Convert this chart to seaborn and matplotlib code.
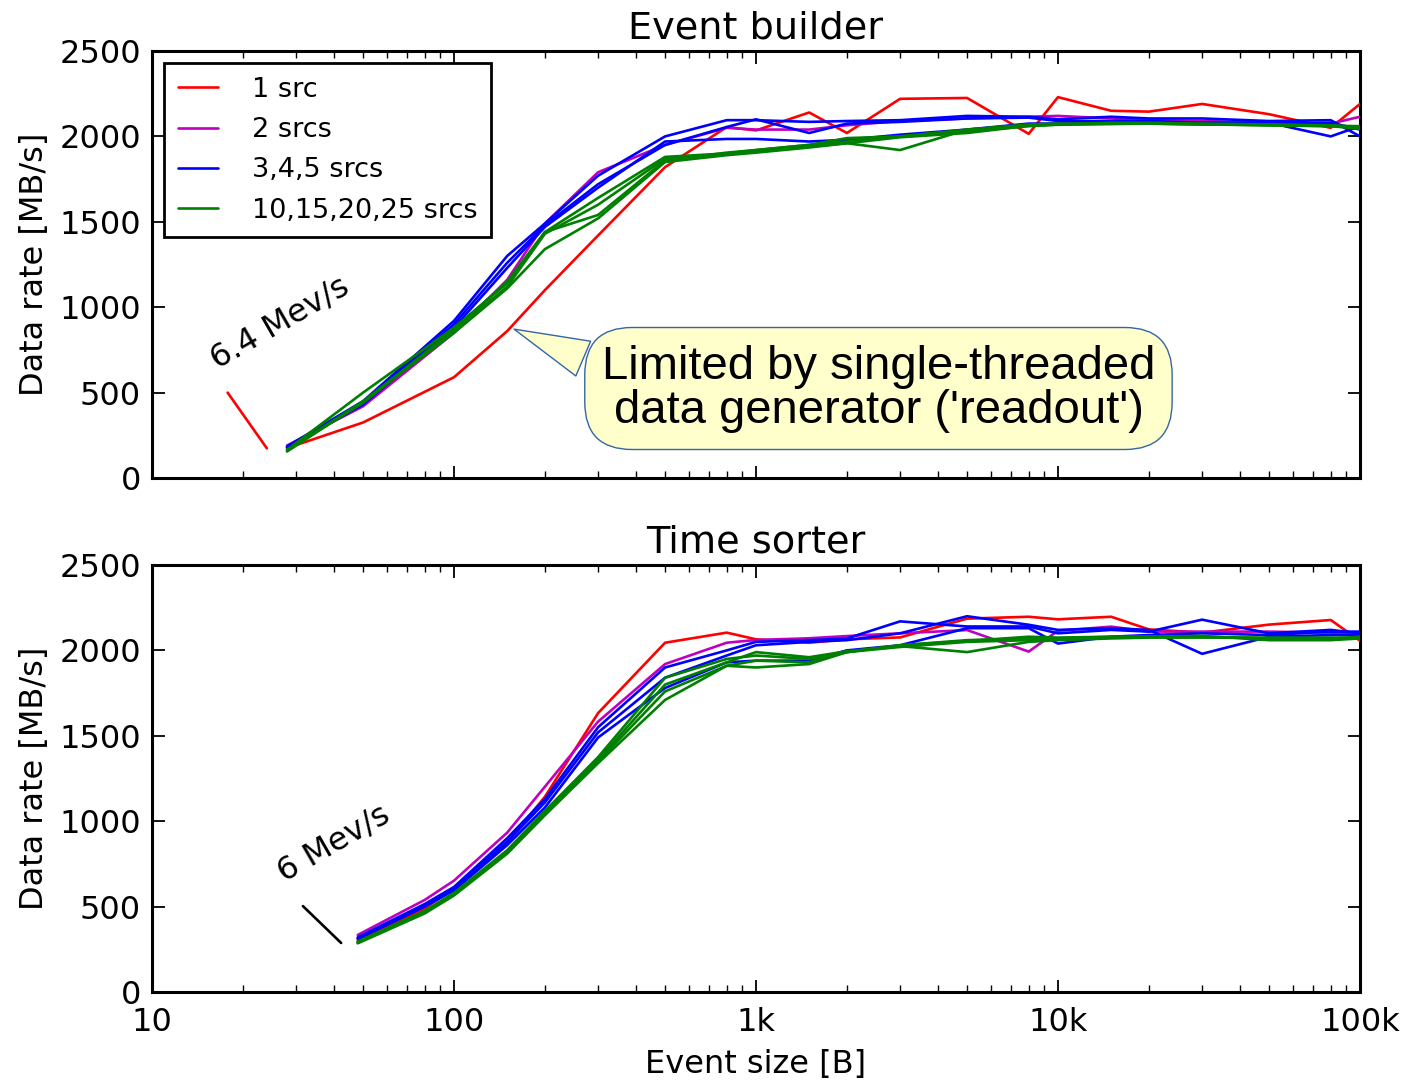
import numpy as np
import pandas as pd
import matplotlib
matplotlib.use("Agg")
import matplotlib.pyplot as plt
from matplotlib.lines import Line2D
from matplotlib.ticker import FixedLocator, FixedFormatter, LogLocator, NullFormatter
import seaborn as sns

# ---------------- data ----------------
sizes_eb = [28, 50, 100, 150, 200, 300, 500, 800, 1000, 1500, 2000, 3000, 5000,
            8000, 10000, 15000, 20000, 30000, 50000, 80000, 100000]
eb_red = [175, 325, 590, 860, 1100, 1420, 1820, 2055, 2035, 2140, 2020, 2220, 2225,
          2015, 2230, 2150, 2145, 2190, 2130, 2050, 2190]
eb_mag = [190, 420, 850, 1160, 1490, 1790, 1950, 2050, 2040, 2040, 2065, 2090, 2105,
          2115, 2120, 2105, 2095, 2090, 2080, 2075, 2115]
eb_blue = [
    [185, 450, 920, 1300, 1490, 1770, 2000, 2095, 2095, 2085, 2090, 2095, 2120,
     2115, 2100, 2115, 2105, 2105, 2090, 2095, 2000],
    [180, 440, 900, 1260, 1480, 1720, 1950, 2055, 2100, 2020, 2075, 2085, 2105,
     2110, 2090, 2090, 2090, 2080, 2080, 2000, 2060],
    [180, 430, 880, 1230, 1470, 1700, 1970, 1985, 1985, 1970, 1980, 2010, 2040,
     2075, 2075, 2080, 2080, 2075, 2075, 2080, 2040],
]
eb_green = [
    [165, 500, 880, 1140, 1440, 1640, 1880, 1900, 1920, 1950, 1990, 2000, 2040,
     2065, 2070, 2075, 2075, 2070, 2065, 2060, 2050],
    [160, 450, 860, 1120, 1430, 1600, 1870, 1895, 1910, 1940, 1960, 1920, 2040,
     2070, 2075, 2075, 2075, 2070, 2068, 2062, 2060],
    [165, 440, 870, 1150, 1440, 1540, 1860, 1905, 1920, 1950, 1970, 2000, 2030,
     2060, 2070, 2080, 2080, 2075, 2070, 2065, 2055],
    [155, 445, 850, 1110, 1340, 1520, 1850, 1890, 1905, 1935, 1960, 1995, 2020,
     2062, 2068, 2072, 2075, 2072, 2065, 2060, 2045],
]

sizes_ts = [48, 80, 100, 150, 200, 300, 500, 800, 1000, 1500, 2000, 3000, 5000,
            8000, 10000, 15000, 20000, 30000, 50000, 80000, 100000]
ts_red = [300, 490, 607, 874, 1143, 1633, 2045, 2104, 2065, 2045, 2065, 2076, 2186,
          2197, 2182, 2197, 2123, 2104, 2151, 2178, 2057]
ts_mag = [334, 539, 652, 933, 1202, 1583, 1920, 2045, 2061, 2071, 2084, 2100, 2119,
          1993, 2115, 2139, 2110, 2110, 2110, 2104, 2090]
ts_blue = [
    [320, 515, 615, 900, 1130, 1550, 1900, 2000, 2050, 2060, 2070, 2170, 2140,
     2140, 2100, 2120, 2110, 2180, 2100, 2120, 2100],
    [315, 505, 605, 880, 1110, 1520, 1840, 1970, 2030, 2050, 2060, 2100, 2200,
     2150, 2120, 2130, 2120, 1980, 2080, 2090, 2090],
    [310, 500, 595, 860, 1080, 1490, 1780, 1930, 1940, 1940, 2000, 2030, 2130,
     2130, 2040, 2080, 2090, 2100, 2090, 2110, 2110],
]
ts_green = [
    [295, 475, 580, 830, 1060, 1375, 1840, 1950, 1970, 1950, 1990, 2020, 2050,
     2060, 2070, 2080, 2080, 2080, 2070, 2070, 2080],
    [290, 470, 575, 820, 1050, 1360, 1800, 1930, 1990, 1960, 1995, 2025, 1990,
     2050, 2060, 2070, 2075, 2075, 2075, 2075, 2070],
    [288, 465, 570, 815, 1040, 1350, 1760, 1910, 1940, 1930, 1990, 2030, 2060,
     2070, 2070, 2075, 2080, 2085, 2060, 2060, 2070],
    [285, 460, 565, 810, 1035, 1340, 1710, 1910, 1900, 1920, 1990, 2030, 2055,
     2080, 2075, 2080, 2080, 2080, 2070, 2070, 2075],
]

# event-rate limit marks
eb_limit_x = [17.8, 24.0]
eb_limit_y = [500, 174]
ts_limit_x = [31.6, 42.3]
ts_limit_y = [503, 287]

legend_labels = ["1 src", "2 srcs", "3,4,5 srcs", "10,15,20,25 srcs"]
xtick_vals = [10, 100, 1000, 10000, 100000]
xtick_labels = ["10", "100", "1k", "10k", "100k"]
ytick_vals = [0, 500, 1000, 1500, 2000, 2500]

# ---------------- style ----------------
sns.set_style("ticks")
plt.rcParams["font.family"] = ["DejaVu Sans"]
plt.rcParams["font.size"] = 23
plt.rcParams["text.color"] = "black"
plt.rcParams["axes.labelcolor"] = "black"
plt.rcParams["xtick.color"] = "black"
plt.rcParams["ytick.color"] = "black"

RED, MAG, BLUE, GREEN = "#ff0000", "#bf00bf", "#0000ff", "#008000"
LW = 1.9

fig = plt.figure(figsize=(14.08, 10.81), dpi=100)
ax1 = fig.add_axes([152 / 1408, 1 - 478 / 1081, (1360 - 152) / 1408, 427 / 1081])
ax2 = fig.add_axes([152 / 1408, 1 - 992 / 1081, (1360 - 152) / 1408, 427 / 1081])


def draw_group(ax, xs, red, mag, blues, greens):
    sns.lineplot(x=xs, y=red, color=RED, lw=LW, ax=ax, zorder=3)
    sns.lineplot(x=xs, y=mag, color=MAG, lw=LW, ax=ax, zorder=3)
    for b in blues:
        sns.lineplot(x=xs, y=b, color=BLUE, lw=LW, ax=ax, zorder=3)
    for g in greens:
        sns.lineplot(x=xs, y=g, color=GREEN, lw=LW, ax=ax, zorder=3)


draw_group(ax1, sizes_eb, eb_red, eb_mag, eb_blue, eb_green)
draw_group(ax2, sizes_ts, ts_red, ts_mag, ts_blue, ts_green)

sns.lineplot(x=eb_limit_x, y=eb_limit_y, color=RED, lw=LW, ax=ax1)
sns.lineplot(x=ts_limit_x, y=ts_limit_y, color="black", lw=LW, ax=ax2)

for ax in (ax1, ax2):
    ax.set_xscale("log")
    ax.set_xlim(10, 100000)
    ax.set_ylim(0, 2500)
    ax.xaxis.set_major_locator(FixedLocator(xtick_vals))
    ax.xaxis.set_minor_locator(LogLocator(base=10, subs=np.arange(2, 10)))
    ax.xaxis.set_minor_formatter(NullFormatter())
    ax.yaxis.set_major_locator(FixedLocator(ytick_vals))
    ax.tick_params(which="both", direction="in", top=True, right=True,
                   labelsize=23, color="black", labelcolor="black")
    ax.tick_params(which="major", length=9, width=1.3)
    ax.tick_params(which="minor", length=5, width=1.0)
    ax.tick_params(axis="y", which="major", pad=8)
    ax.tick_params(axis="x", which="major", pad=11)
    for s in ax.spines.values():
        s.set_linewidth(2.2)
        s.set_color("black")
    ax.set_ylabel("Data rate [MB/s]", fontsize=23, labelpad=7, color="black")

ax1.xaxis.set_major_formatter(NullFormatter())
ax2.xaxis.set_major_formatter(FixedFormatter(xtick_labels))
ax2.set_xlabel("Event size [B]", fontsize=23, labelpad=8, color="black")

ax1.set_title("Event builder", fontsize=27.5, pad=9, color="black")
ax2.set_title("Time sorter", fontsize=27.5, pad=9, color="black")

# legend
handles = [Line2D([], [], color=c, lw=LW) for c in (RED, MAG, BLUE, GREEN)]
leg = ax1.legend(handles, legend_labels, loc="upper left", fontsize=19.5,
                 handlelength=1.5, handletextpad=1.25, labelspacing=0.53,
                 borderpad=0.5, borderaxespad=0.45, fancybox=False, framealpha=1)
leg.get_frame().set_edgecolor("black")
leg.get_frame().set_linewidth(2.0)
for t in leg.get_texts():
    t.set_color("black")

# rotated rate labels
ax1.text(26.6, 905, "6.4 Mev/s", rotation=30, ha="center", va="center", fontsize=23,
         rotation_mode="anchor", color="black")
ax2.text(40.0, 870, "6 Mev/s", rotation=30, ha="center", va="center", fontsize=23,
         rotation_mode="anchor", color="black")

# callout
ax1.annotate("Limited by single-threaded\ndata generator ('readout')",
             xy=(155, 878), xytext=(2544, 524), textcoords="data",
             ha="center", va="center", fontsize=34, family=["Liberation Sans"],
             linespacing=1.0, zorder=5, color="black",
             bbox=dict(boxstyle="round,pad=0.36,rounding_size=1.0", fc="#ffffcc",
                       ec="#3465a4", lw=1.0),
             arrowprops=dict(arrowstyle="wedge,tail_width=0.8,shrink_factor=0.5",
                             fc="#ffffcc", ec="#3465a4", lw=1.0,
                             relpos=(0.0, 0.75)))

fig.savefig("out.png", dpi=100)
